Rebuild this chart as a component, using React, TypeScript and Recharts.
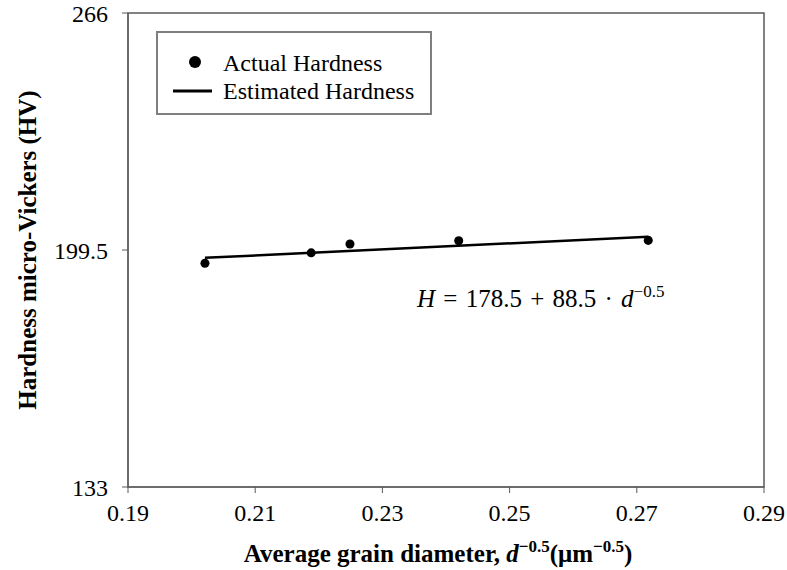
import { ComposedChart, Scatter, Line, XAxis, YAxis, ReferenceArea, Label } from "recharts";

const actualX = [0.2021, 0.2188, 0.2249, 0.242, 0.2718];
const actualHV = [195.8, 198.7, 201.2, 202.1, 202.2];
const fitX = [0.2021, 0.2718];
const fitHV = [197.3, 203.2];
const xTicks = [0.19, 0.21, 0.23, 0.25, 0.27, 0.29];
const yTicks = [133, 199.5, 266];

const actual = actualX.map((x, i) => ({ x, hv: actualHV[i] }));
const fit = fitX.map((x, i) => ({ x, hv: fitHV[i] }));

const serif = "'Liberation Serif', 'Times New Roman', serif";
const axisColor = "#595959";

function XTitle({ viewBox }: any) {
  // title sits a little left of the plot centre, like the original
  const cx = viewBox.x + viewBox.width / 2 - 8;
  return (
    <text x={cx} y={viewBox.y + 75} textAnchor="middle" fontFamily={serif} fontSize={25} fontWeight="bold" fill="#000">
      Average grain diameter,{" "}
      <tspan fontStyle="italic">d</tspan>
      <tspan dy={-10} fontSize={17}>−0.5</tspan>
      <tspan dy={10}>(μm</tspan>
      <tspan dy={-10} fontSize={17}>−0.5</tspan>
      <tspan dy={10}>)</tspan>
    </text>
  );
}

function YTitle({ viewBox }: any) {
  const cy = viewBox.y + viewBox.height / 2;
  return (
    <text
      x={27}
      y={cy}
      transform={`rotate(-90, 27, ${cy})`}
      textAnchor="middle"
      dominantBaseline="central"
      fontFamily={serif}
      fontSize={25}
      fontWeight="bold"
      fill="#000"
    >
      Hardness micro-Vickers (HV)
    </text>
  );
}

export default function App() {
  return (
    <div style={{ position: "absolute", left: 0, top: 0, width: 787, height: 570, background: "#fff" }}>
      <ComposedChart width={787} height={570} margin={{ top: 13, right: 23, bottom: 0, left: 0 }}>
        <XAxis
          dataKey="x"
          type="number"
          domain={[0.19, 0.29]}
          ticks={xTicks}
          tickFormatter={(v: number) => v.toFixed(2)}
          height={83}
          stroke={axisColor}
          tickSize={6}
          tickMargin={11}
          tick={{ fontSize: 24, fontFamily: serif, fill: "#000" }}
          allowDataOverflow
        >
          <Label content={<XTitle />} />
        </XAxis>
        <YAxis
          dataKey="hv"
          type="number"
          domain={[133, 266]}
          ticks={yTicks}
          interval={0}
          width={128}
          stroke={axisColor}
          tickSize={6}
          tickMargin={14}
          tick={{ fontSize: 24, fontFamily: serif, fill: "#000" }}
          allowDataOverflow
        >
          <Label content={<YTitle />} />
        </YAxis>
        <ReferenceArea x1={0.19} x2={0.29} y1={133} y2={266} fill="none" stroke={axisColor} strokeWidth={1.5} ifOverflow="visible" />
        <Line
          data={fit}
          dataKey="hv"
          type="linear"
          stroke="#000"
          strokeWidth={2.5}
          dot={false}
          isAnimationActive={false}
        />
        <Scatter data={actual} dataKey="hv" fill="#000" shape="circle" isAnimationActive={false} r={4} />
      </ComposedChart>

      {/* legend box */}
      <div
        style={{
          position: "absolute",
          left: 156,
          top: 31,
          width: 272,
          height: 80,
          border: "2px solid #7f7f7f",
          fontFamily: serif,
          fontSize: 24,
          color: "#000",
        }}
      >
        <svg width={60} height={80} style={{ position: "absolute", left: 0, top: 0 }}>
          <circle cx={37} cy={29} r={6} fill="#000" />
          <line x1={15} x2={54} y1={58} y2={58} stroke="#000" strokeWidth={3} />
        </svg>
        <div style={{ position: "absolute", left: 65, top: 16, lineHeight: "28px", whiteSpace: "nowrap" }}>Actual Hardness</div>
        <div style={{ position: "absolute", left: 65, top: 44, lineHeight: "28px", whiteSpace: "nowrap" }}>Estimated Hardness</div>
      </div>

      {/* fitted equation */}
      <div
        style={{
          position: "absolute",
          left: 417,
          top: 277,
          fontFamily: serif,
          fontSize: 25,
          lineHeight: "30px",
          wordSpacing: 2,
          whiteSpace: "nowrap",
          color: "#000",
        }}
      >
        <i>H</i> = 178.5 + 88.5 · <i>d</i>
        <sup style={{ fontSize: 17, verticalAlign: "10px" }}>−0.5</sup>
      </div>
    </div>
  );
}
